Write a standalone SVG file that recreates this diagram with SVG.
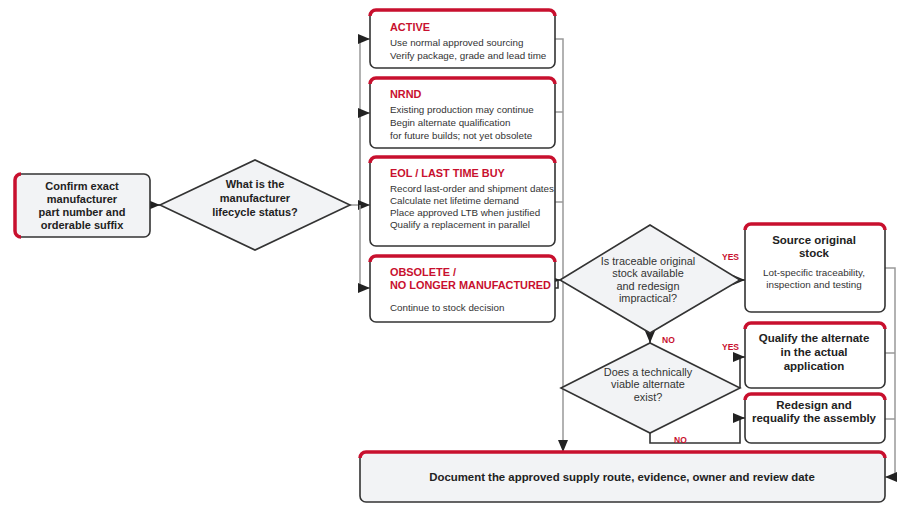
<svg xmlns="http://www.w3.org/2000/svg" width="900" height="507" viewBox="0 0 900 507">
<style>
.box{fill:#fff;stroke:#333;stroke-width:1.6}
.gbox{fill:#f2f3f5;stroke:#333;stroke-width:1.6}
.acc{fill:none;stroke:#c8102e;stroke-width:3.5}
.conn{fill:none;stroke:#999;stroke-width:1.5}
.dk{fill:none;stroke:#333;stroke-width:1.6}
text{font-family:"Liberation Sans",Arial,sans-serif}
.t{font-size:10.9px;font-weight:bold;fill:#c8102e}
.b{font-size:9.8px;fill:#333}
.h{font-size:11px;font-weight:bold;fill:#222;text-anchor:middle}
.hr{font-size:11.5px}
.q{font-size:10.9px;fill:#333;text-anchor:middle}
.c{font-size:9.9px;fill:#333;text-anchor:middle}
.lbl{font-size:8.5px;font-weight:bold;fill:#c8102e}
</style>
<defs>
<marker id="ah" viewBox="0 0 12 10" refX="12" refY="5" markerWidth="12" markerHeight="10" markerUnits="userSpaceOnUse" orient="auto"><path d="M0,0 L12,5 L0,10 z" fill="#222"/></marker>
</defs>
<g id="connectors">
<path class="dk" d="M150,205 H160" marker-end="url(#ah)"/>
<path class="conn" d="M350,205 H360"/>
<path class="conn" d="M360,205 V39 H370" marker-end="url(#ah)"/>
<path class="conn" d="M360,205 V113 H370" marker-end="url(#ah)"/>
<path class="conn" d="M360,205 H370" marker-end="url(#ah)"/>
<path class="conn" d="M360,205 V288 H370" marker-end="url(#ah)"/>
<path class="conn" d="M555,39 H563 V452" marker-end="url(#ah)"/>
<path class="conn" d="M555,112 H563"/>
<path class="conn" d="M555,202 H563"/>
<path class="dk" d="M555,288 H558 V280 H560" marker-end="url(#ah)"/>
<path class="dk" d="M738,280 H745" marker-end="url(#ah)"/>
<path class="dk" d="M650,333 V343" marker-end="url(#ah)"/>
<path class="dk" d="M740,388 V357 H745" marker-end="url(#ah)"/>
<path class="dk" d="M650,433 V443 H740 V418 H745" marker-end="url(#ah)"/>
<path class="conn" d="M885,268 H895 V477 H885" marker-end="url(#ah)"/>
<path class="conn" d="M885,353 H895"/>
<path class="conn" d="M885,419 H895"/>
<text class="lbl" x="722" y="260">YES</text>
<text class="lbl" x="662" y="343">NO</text>
<text class="lbl" x="722" y="350">YES</text>
<text class="lbl" x="674" y="443">NO</text>
</g>
<g id="start">
<rect class="gbox" x="15" y="174" width="135" height="63" rx="6"/>
<path class="acc" d="M21,174 A6,6 0 0 0 15,180 V231 A6,6 0 0 0 21,237"/>
<text class="h" x="82" y="190">Confirm exact</text>
<text class="h" x="82" y="203">manufacturer</text>
<text class="h" x="82" y="216">part number and</text>
<text class="h" x="82" y="229">orderable suffix</text>
</g>
<g id="d1">
<polygon class="gbox" points="160,205 255,160 350,205 255,250"/>
<text class="h" x="255" y="188">What is the</text>
<text class="h" x="255" y="202">manufacturer</text>
<text class="h" x="255" y="216">lifecycle status?</text>
</g>
<g id="active">
<rect class="box" x="370" y="10" width="185" height="58" rx="6"/>
<path class="acc" d="M370,16 A6,6 0 0 1 376,10 H549 A6,6 0 0 1 555,16"/>
<text class="t" x="390" y="31">ACTIVE</text>
<text class="b" x="390" y="46">Use normal approved sourcing</text>
<text class="b" x="390" y="59">Verify package, grade and lead time</text>
</g>
<g id="nrnd">
<rect class="box" x="370" y="78" width="185" height="70" rx="6"/>
<path class="acc" d="M370,84 A6,6 0 0 1 376,78 H549 A6,6 0 0 1 555,84"/>
<text class="t" x="390" y="98">NRND</text>
<text class="b" x="390" y="113">Existing production may continue</text>
<text class="b" x="390" y="126">Begin alternate qualification</text>
<text class="b" x="390" y="139">for future builds; not yet obsolete</text>
</g>
<g id="eol">
<rect class="box" x="370" y="157" width="185" height="89" rx="6"/>
<path class="acc" d="M370,163 A6,6 0 0 1 376,157 H549 A6,6 0 0 1 555,163"/>
<text class="t" x="390" y="177">EOL / LAST TIME BUY</text>
<text class="b" x="390" y="192">Record last-order and shipment dates</text>
<text class="b" x="390" y="204">Calculate net lifetime demand</text>
<text class="b" x="390" y="216">Place approved LTB when justified</text>
<text class="b" x="390" y="228">Qualify a replacement in parallel</text>
</g>
<g id="obsolete">
<rect class="box" x="370" y="256" width="185" height="66" rx="6"/>
<path class="acc" d="M370,262 A6,6 0 0 1 376,256 H549 A6,6 0 0 1 555,262"/>
<text class="t" x="390" y="276">OBSOLETE /</text>
<text class="t" x="390" y="289">NO LONGER MANUFACTURED</text>
<text class="b" x="390" y="311">Continue to stock decision</text>
</g>
<g id="d2">
<polygon class="gbox" points="560,280 650,225 740,280 650,333"/>
<text class="q" x="648" y="265">Is traceable original</text>
<text class="q" x="648" y="277">stock available</text>
<text class="q" x="648" y="290">and redesign</text>
<text class="q" x="648" y="302">impractical?</text>
</g>
<g id="source">
<rect class="box" x="745" y="224" width="140" height="88" rx="6"/>
<path class="acc" d="M745,230 A6,6 0 0 1 751,224 H879 A6,6 0 0 1 885,230"/>
<text class="h hr" x="814" y="244">Source original</text>
<text class="h hr" x="814" y="257">stock</text>
<text class="c" x="814" y="276">Lot-specific traceability,</text>
<text class="c" x="814" y="288">inspection and testing</text>
</g>
<g id="d3">
<polygon class="gbox" points="561,388 650,343 740,388 650,433"/>
<text class="q" x="648" y="376">Does a technically</text>
<text class="q" x="648" y="388">viable alternate</text>
<text class="q" x="648" y="401">exist?</text>
</g>
<g id="qualify">
<rect class="box" x="745" y="323" width="140" height="65" rx="6"/>
<path class="acc" d="M745,329 A6,6 0 0 1 751,323 H879 A6,6 0 0 1 885,329"/>
<text class="h hr" x="814" y="342">Qualify the alternate</text>
<text class="h hr" x="814" y="356">in the actual</text>
<text class="h hr" x="814" y="370">application</text>
</g>
<g id="redesign">
<rect class="box" x="745" y="394" width="140" height="49" rx="6"/>
<path class="acc" d="M745,400 A6,6 0 0 1 751,394 H879 A6,6 0 0 1 885,400"/>
<text class="h hr" x="814" y="409">Redesign and</text>
<text class="h hr" x="814" y="422">requalify the assembly</text>
</g>
<g id="document">
<rect class="gbox" x="360" y="452" width="525" height="50" rx="6"/>
<path class="acc" d="M360,458 A6,6 0 0 1 366,452 H879 A6,6 0 0 1 885,458"/>
<text class="h" x="622" y="481" style="font-size:11.4px">Document the approved supply route, evidence, owner and review date</text>
</g>
</svg>
